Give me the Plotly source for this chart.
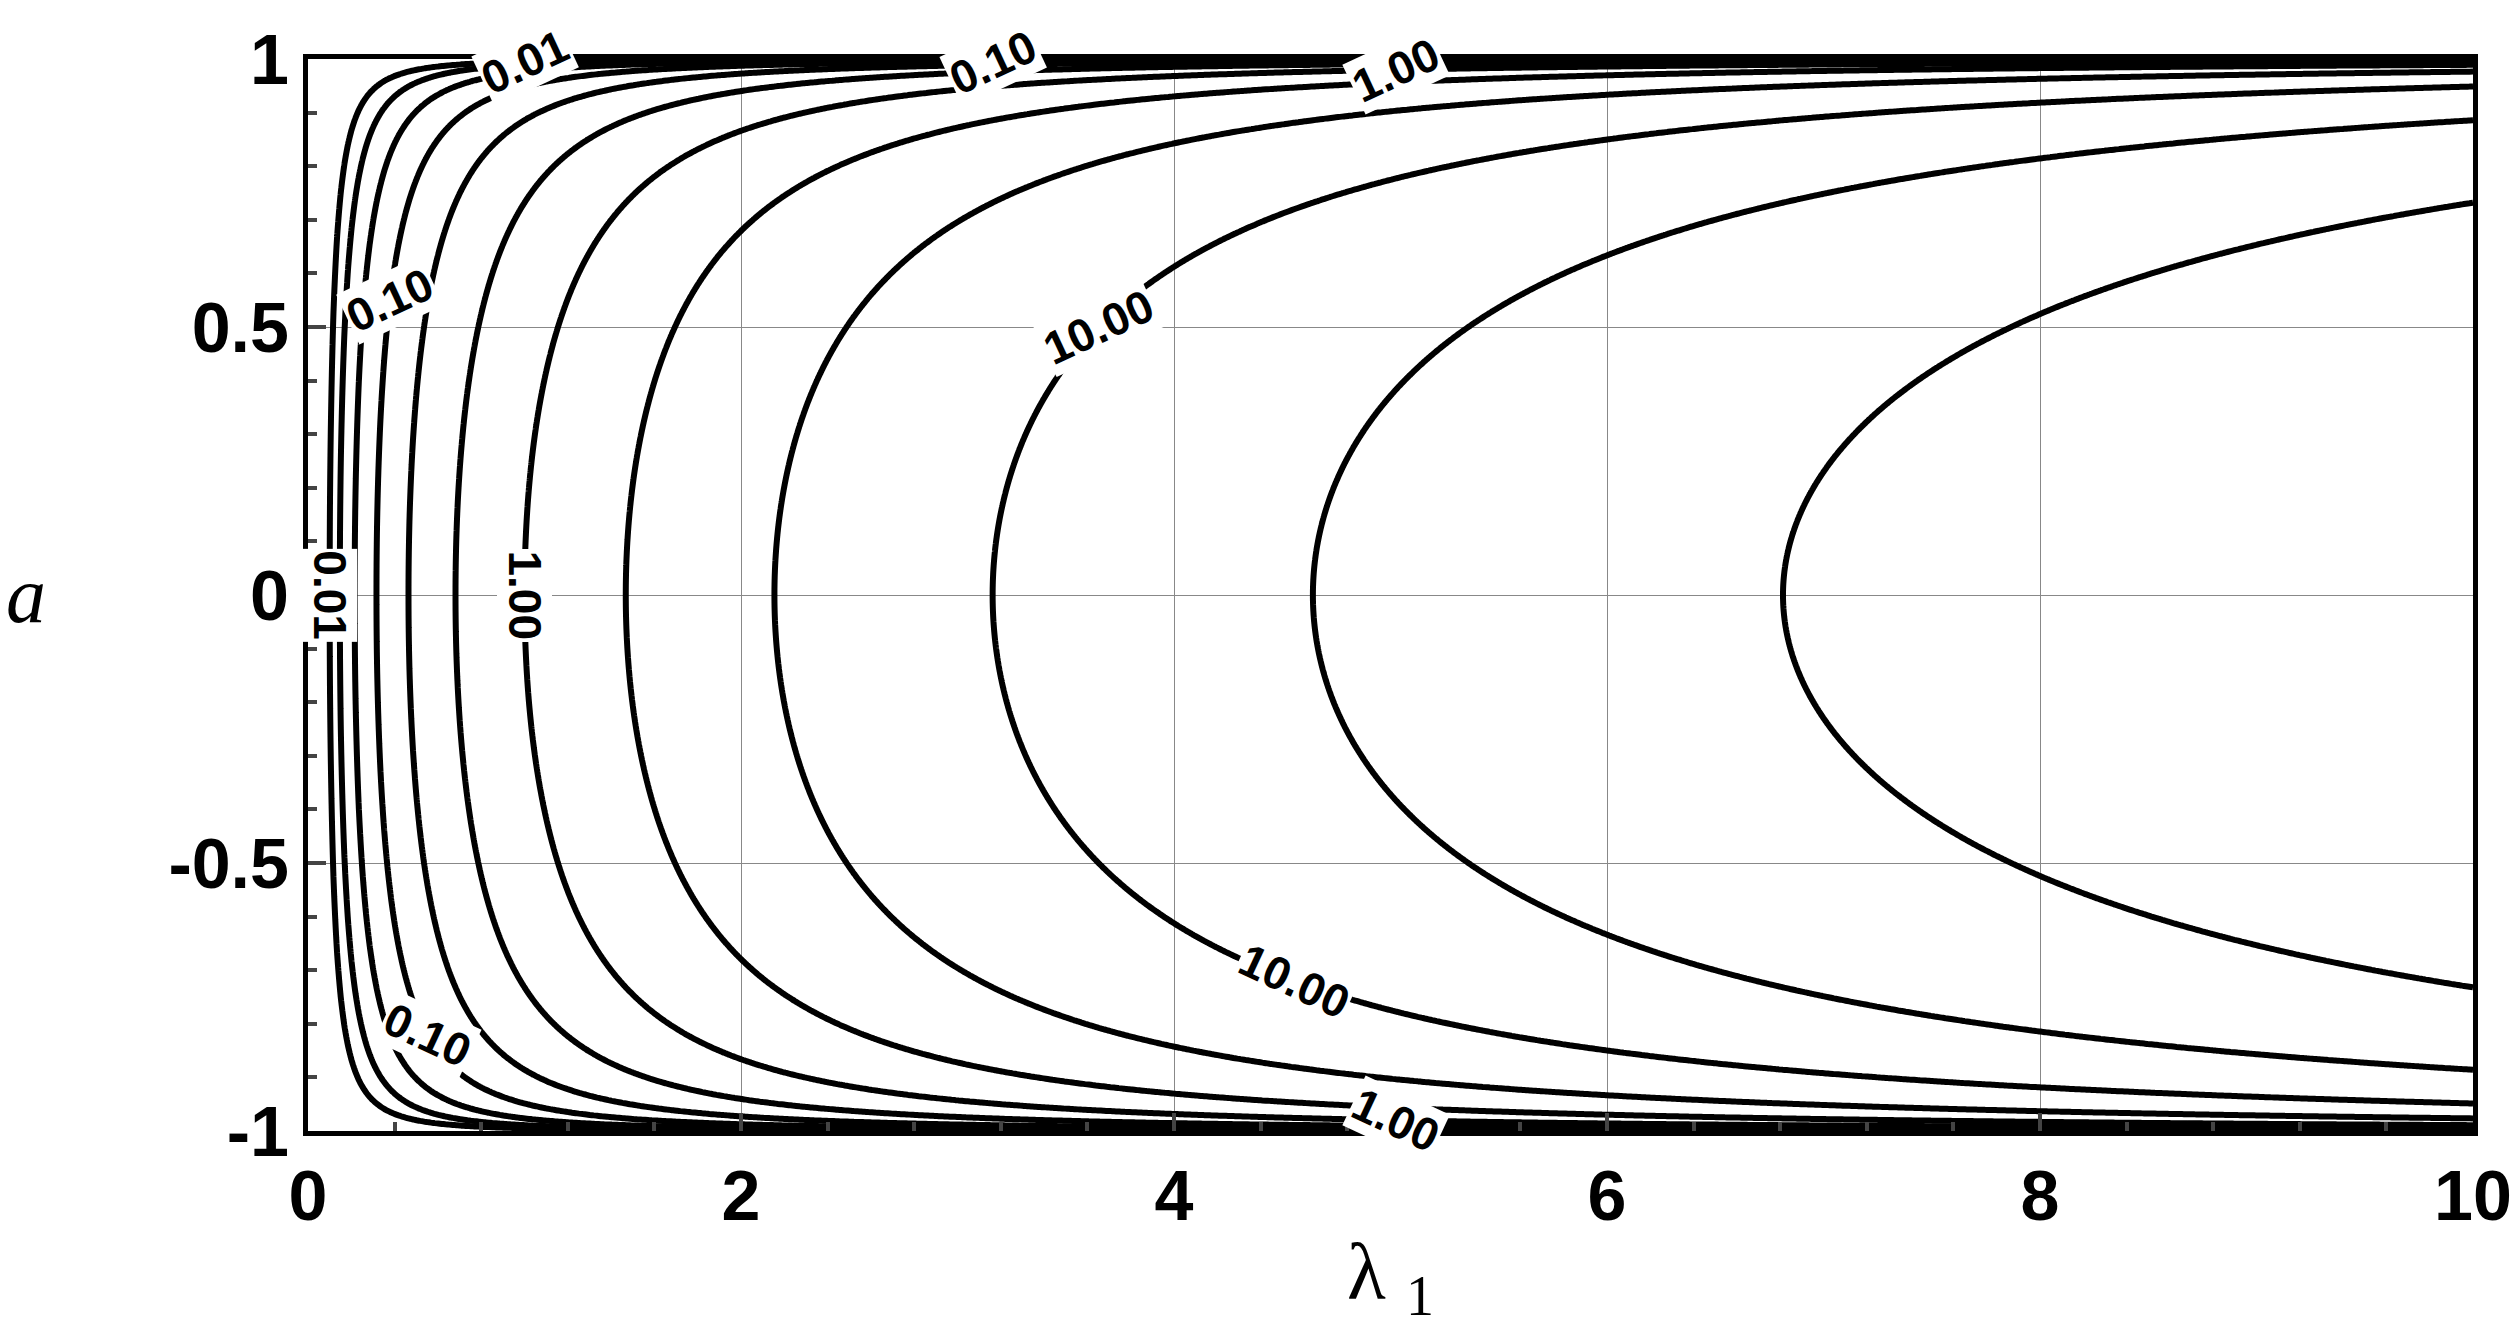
import numpy as np
import plotly.graph_objects as go

# grid for lambda_1 and a
lam = np.linspace(0.001, 10, 600)
a = np.linspace(-1, 1, 801)
L, A = np.meshgrid(lam, a)
F = L**2 * (1 - A**2)
Z = np.log10(np.maximum(F, 1e-12))

label_levels = [0.01, 0.1, 1.0, 10.0]
label_a = [[0.0, 0.995], [0.55, -0.82, 0.995], [0.0, 0.98, -0.98], [0.5, -0.72]]
ytick_vals = [-1, -0.5, 0, 0.5, 1]
ytick_text = ['-1', '-0.5', '0', '0.5', '1']

fig = go.Figure()
fig.add_trace(go.Contour(
    x=lam, y=a, z=Z,
    contours=dict(start=-2, end=np.log10(46.5), size=1/3, coloring='lines'),
    line=dict(width=6, color='black'),
    colorscale=[[0, 'black'], [1, 'black']],
    showscale=False, hoverinfo='skip'
))

for lev, avals in zip(label_levels, label_a):
    for av in avals:
        x = np.sqrt(lev / (1 - av**2))
        if x > 10:
            continue
        fig.add_annotation(x=x, y=av, text=f"<b>{lev:.2f}</b>", showarrow=False,
                           bgcolor='white', font=dict(size=46, color='black', family='Liberation Sans'),
                           textangle=-25 if av > 0.1 else (25 if av < -0.1 else 90))

fig.update_layout(
    width=2520, height=1320,
    plot_bgcolor='white', paper_bgcolor='white',
    margin=dict(l=300, r=55, t=45, b=197),
    font=dict(family='Liberation Sans', color='black'),
)
fig.update_xaxes(range=[0, 10], dtick=2, showgrid=True, gridcolor='#888', gridwidth=1,
                 showline=True, linecolor='black', linewidth=5, mirror=True,
                 ticks='inside', ticklen=18, tickwidth=4,
                 minor=dict(dtick=0.4, ticks='inside', ticklen=9, showgrid=False),
                 tickfont=dict(size=70, family='Liberation Sans', weight='bold'),
                 title=dict(text='λ <sub>1</sub>', standoff=10,
                            font=dict(size=80, family='Liberation Serif')),
                 zeroline=False)
fig.update_yaxes(range=[-1, 1], tickvals=ytick_vals, ticktext=ytick_text,
                 showgrid=True, gridcolor='#888', gridwidth=1,
                 showline=True, linecolor='black', linewidth=5, mirror=True,
                 ticks='inside', ticklen=18, tickwidth=4,
                 minor=dict(dtick=0.1, ticks='inside', ticklen=9, showgrid=False),
                 tickfont=dict(size=70, family='Liberation Sans', weight='bold'),
                 zeroline=False)
fig.add_annotation(xref='paper', yref='paper', x=-0.12, y=0.5, xanchor='right', text='<i>a</i>',
                   showarrow=False, font=dict(size=80, family='Liberation Serif'))

fig.write_html("out.html")
